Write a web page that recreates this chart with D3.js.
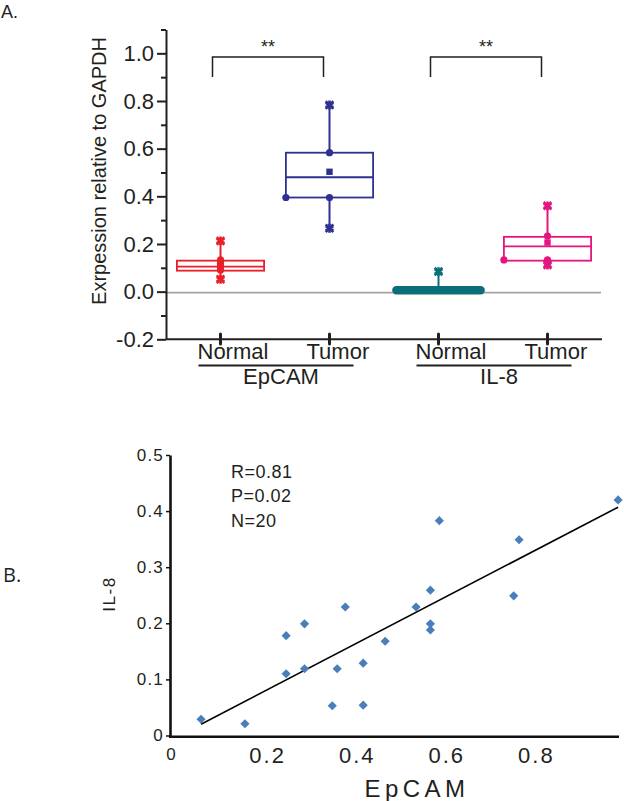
<!DOCTYPE html>
<html>
<head>
<meta charset="utf-8">
<script src="https://cdn.jsdelivr.net/npm/d3@7"></script>
<style>
  html, body { margin: 0; padding: 0; background: #fff; }
  svg { display: block; }
  text { font-family: "Liberation Sans", Arial, sans-serif; fill: #231f20; }
</style>
</head>
<body>
<svg id="chart" width="624" height="801"></svg>
<script>
// ---------- Panel A data ----------
const categories = ["Normal", "Tumor", "Normal", "Tumor"];
const groups = ["EpCAM", "EpCAM", "IL-8", "IL-8"];
const groupNames = ["EpCAM", "IL-8"];
const boxColors = ["#e8202a", "#2e3192", "#0b6f79", "#e4157f"];
const whiskerLow = [0.052, 0.266, 0.0, 0.112];
const q1 = [0.088, 0.395, 0.0, 0.13];
const median = [0.105, 0.48, 0.006, 0.19];
const q3 = [0.13, 0.583, 0.012, 0.23];
const whiskerHigh = [0.213, 0.783, 0.084, 0.36];
const means = [0.112, 0.503, 0.008, 0.206];
const pointsCenter = [[0.133, 0.119, 0.105, 0.091], [0.583, 0.395], [], [0.233, 0.133, 0.12]];
const pointsEdge = [[], [0.395], [], [0.133]];
const yTicksA = [-0.2, 0.0, 0.2, 0.4, 0.6, 0.8, 1.0];
const yMinorA = [-0.1, 0.1, 0.3, 0.5, 0.7, 0.9, 1.1];
const sigPairs = [[0, 1], [2, 3]];
const sigLabels = ["**", "**"];

// ---------- Panel B data ----------
const epcam = [0.067, 0.165, 0.257, 0.257, 0.298, 0.298, 0.389, 0.371, 0.360, 0.429,
               0.429, 0.478, 0.547, 0.579, 0.579, 0.998, 0.599, 0.777, 0.765, 0.579];
const il8   = [0.029, 0.021, 0.178, 0.110, 0.199, 0.119, 0.229, 0.119, 0.053, 0.129,
               0.054, 0.168, 0.229, 0.199, 0.188, 0.420, 0.383, 0.349, 0.249, 0.259];
const fitX = [0.067, 0.998];
const fitY = [0.020, 0.407];
const yTicksB = [0, 0.1, 0.2, 0.3, 0.4, 0.5];
const xTicksB = [0, 0.2, 0.4, 0.6, 0.8];
const stats = ["R=0.81", "P=0.02", "N=20"];

const svg = d3.select("#chart");

// ================= Panel A =================
const xA = d3.scalePoint().domain(d3.range(categories.length)).range([166, 602]).padding(0.5);
const yA = d3.scaleLinear().domain([-0.2, 1.1]).range([339.3, 29.5]);
const boxW = xA.step() * 0.8;

svg.append("text").attr("x", 1).attr("y", 18).style("font-size", "18px").text("A.");

// zero reference line
svg.append("line").attr("x1", 166).attr("x2", 601)
  .attr("y1", yA(0) + 1).attr("y2", yA(0) + 1)
  .attr("stroke", "#a3a3a3").attr("stroke-width", 1.6);

// y axis
const gyA = svg.append("g").attr("transform", "translate(166,0)");
gyA.call(d3.axisLeft(yA).tickValues(yTicksA).tickSize(9).tickSizeOuter(0).tickPadding(3)
  .tickFormat(d => d.toFixed(1)));
gyA.append("g").call(d3.axisLeft(yA).tickValues(yMinorA).tickSize(5).tickSizeOuter(0).tickFormat(""))
  .select(".domain").remove();
gyA.selectAll("path.domain").attr("stroke", "#231f20").attr("stroke-width", 2);
gyA.selectAll(".tick line").attr("stroke", "#231f20").attr("stroke-width", 2);
gyA.selectAll(".tick text").style("font-size", "22px").style("font-family", "'Liberation Sans', Arial, sans-serif")
  .attr("fill", "#231f20");

// y axis title
svg.append("text").attr("transform", "translate(105.5,171) rotate(-90)")
  .attr("text-anchor", "middle").style("font-size", "20px").text("Exrpession relative to GAPDH");

// x axis
svg.append("line").attr("x1", 166).attr("x2", 602).attr("y1", 339.3).attr("y2", 339.3)
  .attr("stroke", "#231f20").attr("stroke-width", 2);
svg.append("g").selectAll("line").data(d3.range(categories.length)).join("line")
  .attr("x1", d => xA(d)).attr("x2", d => xA(d)).attr("y1", 334).attr("y2", 344)
  .attr("stroke", "#231f20").attr("stroke-width", 3).attr("stroke-linecap", "round");
svg.append("g").selectAll("text").data(categories).join("text")
  .attr("x", (d, i) => xA(i) - 23).attr("y", 359)
  .style("font-size", "22px").text(d => d);
// group underlines and labels
groupNames.forEach(g => {
  const idx = d3.range(groups.length).filter(i => groups[i] === g);
  const x0 = xA(idx[0]) - 22, x1 = xA(idx[idx.length - 1]) + 24;
  svg.append("line").attr("x1", x0).attr("x2", x1).attr("y1", 365.5).attr("y2", 365.5)
    .attr("stroke", "#231f20").attr("stroke-width", 2);
  svg.append("text").attr("x", (xA(idx[0]) + xA(idx[idx.length - 1])) / 2 + 6).attr("y", 384)
    .attr("text-anchor", "middle").style("font-size", "22px").text(g);
});

// significance brackets
sigPairs.forEach((p, k) => {
  const xa = xA(p[0]) - 8, xb = xA(p[1]) - 6;
  svg.append("path").attr("d", `M${xa},${77}V${57}H${xb}V${77}`)
    .attr("fill", "none").attr("stroke", "#231f20").attr("stroke-width", 1.5);
  svg.append("text").attr("x", (xa + xb) / 2).attr("y", 53).attr("text-anchor", "middle")
    .style("font-size", "18px").attr("fill", "#333").text(sigLabels[k]);
});

// boxes
const star = d3.symbol().type(d3.symbolAsterisk).size(55);
const star2 = d3.symbol().type(d3.symbolTimes).size(40);
categories.forEach((c, i) => {
  const cx = xA(i), col = boxColors[i];
  const g = svg.append("g");
  const isFlat = (yA(q1[i]) - yA(q3[i])) < 4;
  g.append("line").attr("x1", cx).attr("x2", cx).attr("y1", yA(whiskerHigh[i])).attr("y2", yA(q3[i]))
    .attr("stroke", col).attr("stroke-width", 2);
  g.append("line").attr("x1", cx).attr("x2", cx).attr("y1", yA(q1[i])).attr("y2", yA(whiskerLow[i]))
    .attr("stroke", col).attr("stroke-width", 2);
  if (isFlat) {
    g.append("rect").attr("x", cx - boxW / 2 - 2).attr("y", yA(q3[i]) - 2)
      .attr("width", boxW + 4).attr("height", yA(q1[i]) - yA(q3[i]) + 4)
      .attr("rx", 3.5).attr("fill", col).attr("stroke", col).attr("stroke-width", 1.5);
  } else {
    g.append("rect").attr("x", cx - boxW / 2).attr("y", yA(q3[i]))
      .attr("width", boxW).attr("height", yA(q1[i]) - yA(q3[i]))
      .attr("fill", "none").attr("stroke", col).attr("stroke-width", 1.8);
    g.append("line").attr("x1", cx - boxW / 2).attr("x2", cx + boxW / 2)
      .attr("y1", yA(median[i])).attr("y2", yA(median[i])).attr("stroke", col).attr("stroke-width", 1.8);
    g.append("rect").attr("x", cx - 3.2).attr("y", yA(means[i]) - 3.2).attr("width", 6.4).attr("height", 6.4)
      .attr("fill", col);
  }
  pointsCenter[i].forEach(v => g.append("circle").attr("cx", cx).attr("cy", yA(v)).attr("r", 3.6).attr("fill", col));
  pointsEdge[i].forEach(v => g.append("circle").attr("cx", cx - boxW / 2).attr("cy", yA(v)).attr("r", 3.6).attr("fill", col));
  const ends = isFlat ? [whiskerHigh[i]] : [whiskerHigh[i], whiskerLow[i]];
  ends.forEach(v => {
    g.append("path").attr("d", star()).attr("transform", `translate(${cx},${yA(v)})`)
      .attr("fill", "none").attr("stroke", col).attr("stroke-width", 2.6);
    g.append("path").attr("d", star2()).attr("transform", `translate(${cx},${yA(v)})`)
      .attr("fill", "none").attr("stroke", col).attr("stroke-width", 2.6);
  });
});

// ================= Panel B =================
const xB = d3.scaleLinear().domain([0, 1]).range([171, 619]);
const yB = d3.scaleLinear().domain([0, 0.5]).range([735.5, 455]);

svg.append("text").attr("x", 3).attr("y", 582).style("font-family", "'Open Sans', sans-serif")
  .style("font-size", "20px").text("B.");

const gyB = svg.append("g").attr("transform", `translate(${xB(0) - 1},0)`);
gyB.call(d3.axisLeft(yB).tickValues(yTicksB).tickSize(4).tickSizeOuter(0).tickPadding(2)
  .tickFormat(d => d === 0 ? "0" : d.toFixed(1)));
gyB.selectAll("path.domain").attr("stroke", "#111").attr("stroke-width", 2.6);
gyB.selectAll(".tick line").attr("stroke", "#111").attr("stroke-width", 1.5);
gyB.selectAll(".tick text").style("font-size", "17px").style("letter-spacing", "1.2px")
  .style("font-family", "'Liberation Sans', Arial, sans-serif").attr("fill", "#231f20");

svg.append("line").attr("x1", xB(0) - 2).attr("x2", xB(1)).attr("y1", yB(0) + 1.2).attr("y2", yB(0) + 1.2)
  .attr("stroke", "#111").attr("stroke-width", 2.6);
svg.append("g").selectAll("text").data(xTicksB).join("text")
  .attr("x", d => d === 0 ? xB(d) : xB(d) + 7).attr("y", d => d === 0 ? 760 : 763)
  .attr("text-anchor", "middle")
  .style("font-size", d => d === 0 ? "17px" : "22px").style("letter-spacing", d => d === 0 ? "0px" : "2px")
  .text(d => d === 0 ? "0" : d.toFixed(1));

svg.append("text").attr("x", 417).attr("y", 797).attr("text-anchor", "middle")
  .style("font-size", "24px").style("letter-spacing", "4.5px").text("EpCAM");
svg.append("text").attr("transform", "translate(115,594) rotate(-90)").attr("text-anchor", "middle")
  .style("font-size", "17px").style("letter-spacing", "1.5px").text("IL-8");

// regression line
svg.append("line").attr("x1", xB(fitX[0])).attr("y1", yB(fitY[0]))
  .attr("x2", xB(fitX[1])).attr("y2", yB(fitY[1])).attr("stroke", "#000").attr("stroke-width", 1.6);

// points
const diamond = d3.symbol().type(d3.symbolSquare).size(42);
svg.append("g").selectAll("path").data(epcam).join("path")
  .attr("d", diamond())
  .attr("transform", (d, i) => `translate(${xB(d)},${yB(il8[i])}) rotate(45)`)
  .attr("fill", "#4a7ebb");

// stats text
svg.append("g").selectAll("text").data(stats).join("text")
  .attr("x", 231).attr("y", (d, i) => 477.5 + i * 24.5)
  .style("font-size", "18px").style("letter-spacing", "0.5px").text(d => d);
</script>
</body>
</html>
